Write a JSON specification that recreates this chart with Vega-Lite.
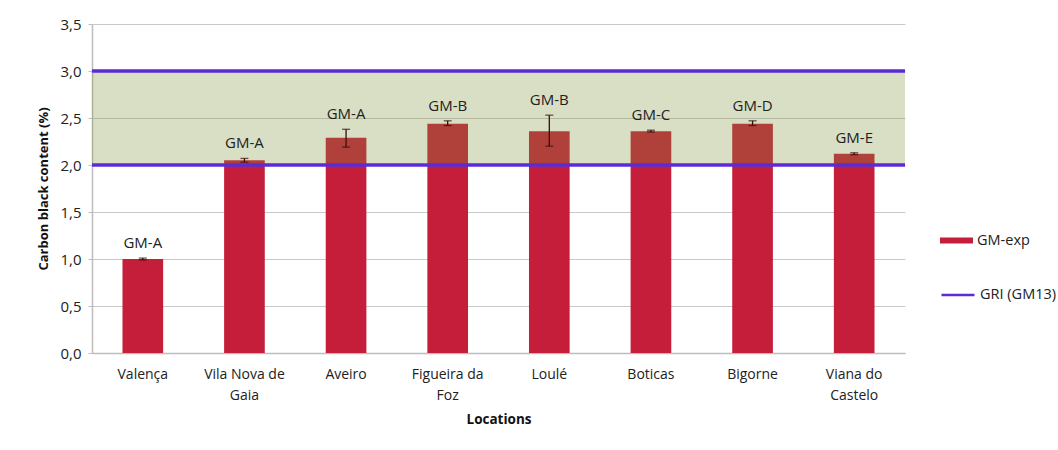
{
  "$schema": "https://vega.github.io/schema/vega-lite/v6.json",
  "width": 813,
  "height": 329,
  "autosize": {"type": "none"},
  "padding": {"left": 92, "top": 24, "right": 153, "bottom": 97},
  "background": "white",
  "config": {
    "view": {"stroke": null},
    "font": "Open Sans",
    "axis": {"labelFont": "Open Sans", "titleFont": "Open Sans", "labelColor": "#222", "titleColor": "#111"},
    "legend": {"labelFont": "Open Sans"}
  },
  "datasets": {
    "cb": [
      {"loc": "Valença", "cb": 1.0, "lo": 0.99, "hi": 1.01, "grade": "GM-A"},
      {"loc": "Vila Nova de Gaia", "cb": 2.05, "lo": 2.03, "hi": 2.07, "grade": "GM-A"},
      {"loc": "Aveiro", "cb": 2.29, "lo": 2.19, "hi": 2.38, "grade": "GM-A"},
      {"loc": "Figueira da Foz", "cb": 2.44, "lo": 2.42, "hi": 2.47, "grade": "GM-B"},
      {"loc": "Loulé", "cb": 2.36, "lo": 2.2, "hi": 2.53, "grade": "GM-B"},
      {"loc": "Boticas", "cb": 2.36, "lo": 2.35, "hi": 2.37, "grade": "GM-C"},
      {"loc": "Bigorne", "cb": 2.44, "lo": 2.42, "hi": 2.47, "grade": "GM-D"},
      {"loc": "Viana do Castelo", "cb": 2.12, "lo": 2.11, "hi": 2.13, "grade": "GM-E"}
    ],
    "gri": [
      {"limit": 2.0},
      {"limit": 3.0}
    ],
    "band": [
      {"lo": 2.0, "hi": 3.0}
    ]
  },
  "layer": [
    {
      "data": {"name": "cb"},
      "mark": {"type": "bar"},
      "encoding": {
        "x": {
          "field": "loc", "type": "nominal", "sort": null,
          "scale": {"paddingInner": 0.6, "paddingOuter": 0.3},
          "axis": {
            "title": "Locations", "titleFontSize": 13.5, "titleFontWeight": "bold", "titlePadding": 10,
            "labelAngle": 0, "labelFontSize": 14, "labelPadding": 14, "labelLineHeight": 21,
            "ticks": false, "domainColor": "#bdbdbd", "domainWidth": 1.5,
            "labelExpr": "datum.label == 'Vila Nova de Gaia' ? ['Vila Nova de', 'Gaia'] : datum.label == 'Figueira da Foz' ? ['Figueira da', 'Foz'] : datum.label == 'Viana do Castelo' ? ['Viana do', 'Castelo'] : datum.label"
          }
        },
        "y": {
          "field": "cb", "type": "quantitative",
          "scale": {"domain": [0, 3.5], "nice": false},
          "axis": {
            "title": "Carbon black content (%)", "titleFontSize": 13, "titleFontWeight": "bold", "titlePadding": 9,
            "values": [0, 0.5, 1, 1.5, 2, 2.5, 3, 3.5],
            "labelExpr": "replace(format(datum.value, '.1f'), '.', ',')",
            "labelFontSize": 15, "labelPadding": 7,
            "grid": true, "gridColor": "#c9c9c9", "gridWidth": 1,
            "tickColor": "#bdbdbd", "tickSize": 4, "domainColor": "#bdbdbd", "domainWidth": 1.5
          }
        },
        "fill": {
          "datum": "GM-exp",
          "scale": {"domain": ["GM-exp"], "range": ["#c41e3a"]},
          "legend": {
            "title": null, "orient": "none", "legendX": 848, "legendY": 200,
            "symbolType": "M-1,-0.18H1V0.18H-1Z", "symbolSize": 1089, "symbolStrokeWidth": 0,
            "labelFontSize": 14.5, "labelOffset": 4, "labelColor": "#222", "padding": 0
          }
        }
      }
    },
    {
      "data": {"name": "band"},
      "mark": {"type": "rect", "color": "#80943a", "opacity": 0.3},
      "encoding": {
        "y": {"field": "lo", "type": "quantitative"},
        "y2": {"field": "hi"}
      }
    },
    {
      "data": {"name": "gri"},
      "mark": {"type": "rule", "strokeWidth": 3.5},
      "encoding": {
        "y": {"field": "limit", "type": "quantitative"},
        "stroke": {
          "datum": "GRI (GM13)",
          "scale": {"domain": ["GRI (GM13)"], "range": ["#5b2bd8"]},
          "legend": {
            "title": null, "orient": "none", "legendX": 848, "legendY": 253,
            "symbolType": "stroke", "symbolSize": 1089, "symbolStrokeWidth": 2.5,
            "labelFontSize": 14.5, "labelOffset": 4, "labelColor": "#222", "padding": 0
          }
        }
      }
    },
    {
      "data": {"name": "cb"},
      "mark": {"type": "rule", "color": "#3a0d0d", "strokeWidth": 1.3},
      "encoding": {
        "x": {"field": "loc", "type": "nominal", "sort": null},
        "y": {"field": "lo", "type": "quantitative"},
        "y2": {"field": "hi"}
      }
    },
    {
      "data": {"name": "cb"},
      "mark": {"type": "tick", "color": "#3a0d0d", "size": 8, "thickness": 1.3},
      "encoding": {
        "x": {"field": "loc", "type": "nominal", "sort": null},
        "y": {"field": "lo", "type": "quantitative"}
      }
    },
    {
      "data": {"name": "cb"},
      "mark": {"type": "tick", "color": "#3a0d0d", "size": 8, "thickness": 1.3},
      "encoding": {
        "x": {"field": "loc", "type": "nominal", "sort": null},
        "y": {"field": "hi", "type": "quantitative"}
      }
    },
    {
      "data": {"name": "cb"},
      "mark": {"type": "text", "fontSize": 15, "color": "#222", "dy": -15, "baseline": "middle"},
      "encoding": {
        "x": {"field": "loc", "type": "nominal", "sort": null},
        "y": {"field": "hi", "type": "quantitative"},
        "text": {"field": "grade"}
      }
    }
  ]
}
